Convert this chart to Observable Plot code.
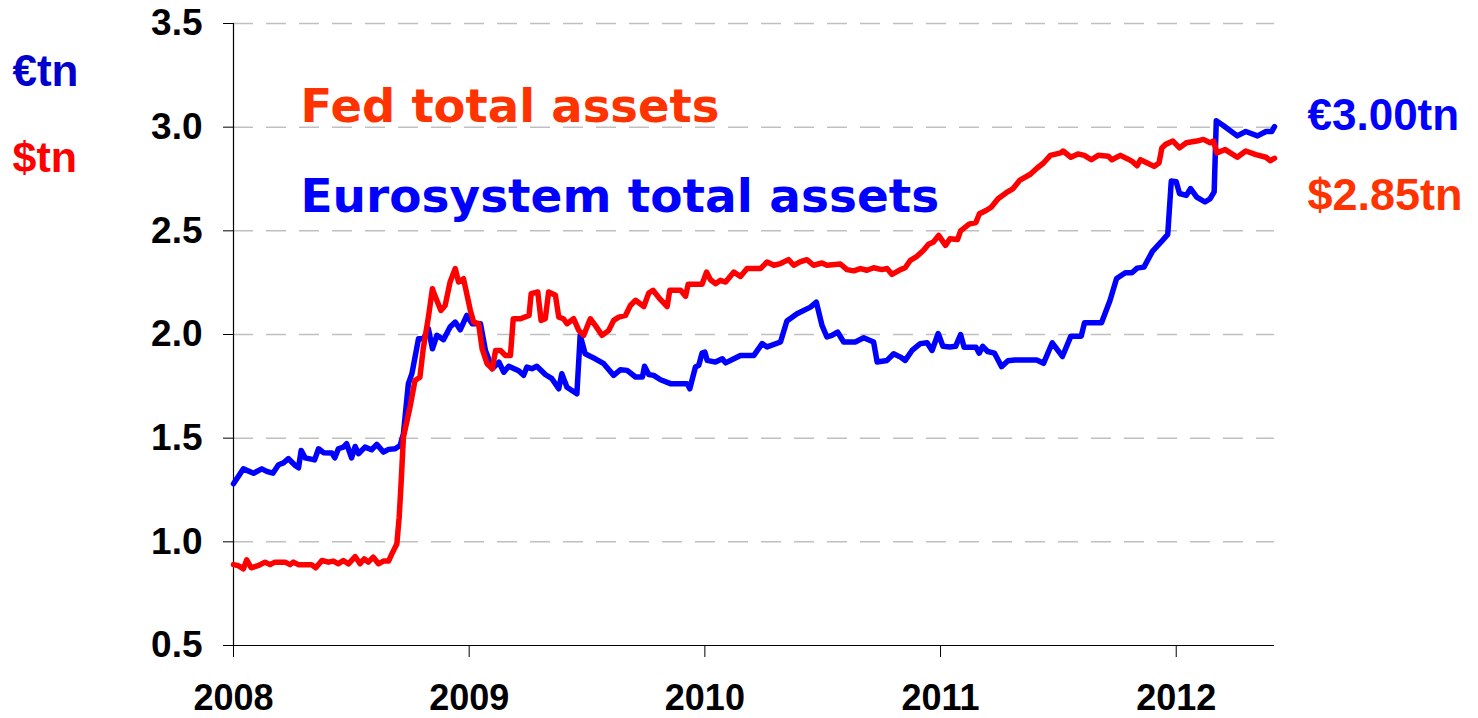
<!DOCTYPE html>
<html><head><meta charset="utf-8">
<script src="https://cdn.jsdelivr.net/npm/d3@7"></script>
<script src="https://cdn.jsdelivr.net/npm/@observablehq/plot@0.6"></script>
<style>html,body{margin:0;padding:0;background:#fff;} svg{display:block}</style>
</head><body><div id="chart"></div>
<script>
// Eurosystem total assets (EUR tn)
const ecbYears = [2008.000,2008.042,2008.085,2008.120,2008.141,2008.167,2008.191,2008.212,2008.233,2008.262,2008.276,2008.287,2008.304,2008.344,2008.361,2008.382,2008.417,2008.430,2008.445,2008.466,2008.480,2008.501,2008.516,2008.530,2008.558,2008.586,2008.608,2008.636,2008.658,2008.686,2008.707,2008.721,2008.742,2008.757,2008.785,2008.806,2008.827,2008.844,2008.863,2008.891,2008.919,2008.941,2008.962,2008.990,2009.013,2009.048,2009.069,2009.098,2009.126,2009.147,2009.168,2009.210,2009.231,2009.245,2009.266,2009.287,2009.323,2009.351,2009.380,2009.393,2009.415,2009.457,2009.471,2009.492,2009.535,2009.571,2009.613,2009.642,2009.670,2009.706,2009.735,2009.744,2009.762,2009.783,2009.812,2009.854,2009.925,2009.936,2009.960,2009.974,2009.988,2010.000,2010.010,2010.045,2010.074,2010.088,2010.123,2010.151,2010.208,2010.243,2010.264,2010.321,2010.348,2010.391,2010.448,2010.473,2010.497,2010.518,2010.539,2010.563,2010.589,2010.638,2010.674,2010.716,2010.731,2010.773,2010.801,2010.830,2010.850,2010.879,2010.914,2010.943,2010.964,2010.990,2011.010,2011.040,2011.064,2011.085,2011.100,2011.150,2011.164,2011.179,2011.200,2011.229,2011.259,2011.286,2011.315,2011.408,2011.437,2011.474,2011.517,2011.553,2011.597,2011.611,2011.683,2011.719,2011.747,2011.784,2011.812,2011.834,2011.863,2011.899,2011.935,2011.964,2011.979,2012.000,2012.014,2012.043,2012.061,2012.087,2012.122,2012.144,2012.161,2012.170,2012.201,2012.259,2012.295,2012.345,2012.381,2012.405,2012.417];
const ecbValues = [1.280,1.352,1.331,1.352,1.340,1.331,1.372,1.381,1.401,1.368,1.357,1.441,1.405,1.395,1.449,1.430,1.429,1.405,1.449,1.457,1.473,1.405,1.460,1.425,1.457,1.444,1.470,1.433,1.446,1.449,1.465,1.521,1.763,1.811,1.980,1.980,2.028,1.931,1.996,1.975,2.036,2.060,2.023,2.092,2.052,2.052,1.923,1.835,1.867,1.818,1.847,1.825,1.803,1.843,1.835,1.847,1.807,1.787,1.738,1.811,1.746,1.714,1.996,1.907,1.883,1.859,1.803,1.830,1.827,1.795,1.795,1.847,1.807,1.803,1.782,1.763,1.763,1.738,1.843,1.851,1.910,1.915,1.875,1.867,1.883,1.863,1.883,1.899,1.899,1.956,1.940,1.964,2.065,2.100,2.132,2.156,2.044,1.988,1.996,2.012,1.964,1.964,1.984,1.964,1.867,1.875,1.907,1.891,1.875,1.923,1.956,1.960,1.923,2.005,1.943,1.940,1.943,2.000,1.939,1.939,1.910,1.943,1.918,1.910,1.845,1.873,1.877,1.877,1.861,1.960,1.894,1.992,1.992,2.057,2.057,2.164,2.270,2.298,2.298,2.320,2.325,2.401,2.445,2.483,2.740,2.737,2.680,2.671,2.704,2.663,2.639,2.655,2.688,3.031,3.007,2.958,2.979,2.958,2.979,2.979,3.003];

// Fed total assets (USD tn)
const fedYears = [2008.000,2008.020,2008.042,2008.056,2008.075,2008.104,2008.134,2008.155,2008.176,2008.219,2008.240,2008.254,2008.275,2008.331,2008.349,2008.375,2008.403,2008.424,2008.445,2008.466,2008.488,2008.516,2008.537,2008.555,2008.572,2008.593,2008.615,2008.636,2008.658,2008.672,2008.693,2008.703,2008.711,2008.721,2008.749,2008.770,2008.791,2008.805,2008.827,2008.844,2008.851,2008.880,2008.898,2008.919,2008.941,2008.955,2008.976,2009.005,2009.019,2009.040,2009.055,2009.076,2009.098,2009.112,2009.133,2009.154,2009.175,2009.187,2009.218,2009.254,2009.263,2009.291,2009.305,2009.323,2009.337,2009.366,2009.380,2009.400,2009.415,2009.443,2009.465,2009.486,2009.514,2009.535,2009.564,2009.592,2009.613,2009.635,2009.663,2009.684,2009.706,2009.741,2009.762,2009.780,2009.812,2009.840,2009.851,2009.897,2009.918,2009.929,2009.988,2010.007,2010.024,2010.045,2010.066,2010.088,2010.123,2010.151,2010.179,2010.236,2010.264,2010.293,2010.321,2010.355,2010.377,2010.404,2010.433,2010.461,2010.497,2010.518,2010.575,2010.603,2010.632,2010.660,2010.688,2010.716,2010.751,2010.773,2010.794,2010.830,2010.850,2010.872,2010.900,2010.928,2010.949,2010.970,2010.992,2011.021,2011.040,2011.072,2011.085,2011.121,2011.150,2011.165,2011.193,2011.215,2011.244,2011.279,2011.308,2011.337,2011.381,2011.410,2011.437,2011.466,2011.510,2011.520,2011.553,2011.583,2011.610,2011.640,2011.669,2011.712,2011.727,2011.763,2011.792,2011.813,2011.834,2011.848,2011.877,2011.906,2011.927,2011.939,2011.955,2011.986,2012.014,2012.043,2012.087,2012.115,2012.144,2012.158,2012.173,2012.208,2012.259,2012.295,2012.338,2012.381,2012.400,2012.417];
const fedValues = [0.890,0.885,0.870,0.913,0.875,0.885,0.902,0.890,0.902,0.902,0.890,0.902,0.890,0.890,0.875,0.910,0.902,0.907,0.894,0.910,0.894,0.929,0.894,0.918,0.902,0.926,0.894,0.907,0.907,0.942,0.990,1.119,1.280,1.505,1.650,1.778,1.794,1.931,2.084,2.221,2.197,2.116,2.140,2.253,2.318,2.253,2.269,2.116,2.060,2.052,1.931,1.859,1.835,1.923,1.923,1.899,1.899,2.076,2.076,2.092,2.197,2.205,2.068,2.076,2.205,2.189,2.084,2.076,2.052,2.076,2.020,1.996,2.076,2.044,1.996,2.020,2.068,2.084,2.092,2.140,2.165,2.135,2.200,2.213,2.168,2.135,2.213,2.213,2.184,2.242,2.242,2.301,2.264,2.245,2.261,2.253,2.301,2.280,2.318,2.318,2.350,2.334,2.342,2.361,2.334,2.350,2.361,2.334,2.345,2.334,2.340,2.313,2.307,2.318,2.310,2.322,2.313,2.318,2.290,2.313,2.322,2.358,2.377,2.406,2.435,2.446,2.478,2.430,2.462,2.458,2.500,2.532,2.540,2.582,2.598,2.614,2.655,2.684,2.704,2.745,2.773,2.803,2.827,2.864,2.876,2.885,2.855,2.871,2.864,2.843,2.864,2.860,2.843,2.864,2.848,2.835,2.814,2.843,2.827,2.811,2.827,2.900,2.917,2.933,2.900,2.925,2.933,2.941,2.925,2.933,2.876,2.892,2.855,2.885,2.868,2.855,2.838,2.850];

const yTicks = [0.5, 1.0, 1.5, 2.0, 2.5, 3.0, 3.5];
const xTicks = [2008, 2009, 2010, 2011, 2012];

const ecb = ecbYears.map((x, i) => ({x, y: ecbValues[i]}));
const fed = fedYears.map((x, i) => ({x, y: fedValues[i]}));

const arial = "'Liberation Sans', Arial, Helvetica, sans-serif";
const verdana = "'DejaVu Sans', Verdana, sans-serif";

function label(txt, dx, dy, fill, size, family) {
  return Plot.text([txt], {text: d => d, frameAnchor: "top-left", dx, dy,
    textAnchor: "start", lineAnchor: "middle", fill, fontSize: size,
    fontWeight: "bold", fontFamily: family});
}

const chart = Plot.plot({
  width: 1478, height: 718,
  marginLeft: 233, marginRight: 204, marginTop: 23, marginBottom: 73,
  style: {fontFamily: arial, fontWeight: "bold", color: "#000", background: "#fff", overflow: "visible"},
  x: {domain: [2008, 2012.417]},
  y: {domain: [0.5, 3.5]},
  marks: [
    Plot.gridY(yTicks.filter(d => d > 0.5), {stroke: "#c0c0c0", strokeOpacity: 1, strokeWidth: 1.5, strokeDasharray: "20,13"}),
    Plot.axisY(yTicks, {tickSize: 10, tickPadding: 21, tickFormat: d3.format(".1f"), fontSize: 37, label: null, stroke: "#000"}),
    Plot.axisX(xTicks, {tickSize: 12, tickPadding: 27, tickFormat: d => String(d), fontSize: 36, label: null, stroke: "#000"}),
    Plot.ruleX([2008], {y1: 0.5, y2: 3.5, stroke: "#000", strokeWidth: 1.2}),
    Plot.ruleY([0.5], {stroke: "#000", strokeWidth: 1.2}),
    Plot.line(ecb, {x: "x", y: "y", stroke: "#0000ff", strokeWidth: 5.5, strokeLinejoin: "round"}),
    Plot.line(fed, {x: "x", y: "y", stroke: "#ff0000", strokeWidth: 5.5, strokeLinejoin: "round"}),
    label("€tn", -221, 48, "#0000cc", 44, arial),
    label("$tn", -221, 135, "#ff0000", 43, arial),
    label("Fed total assets", 67, 84, "#ff3300", 46.5, verdana),
    label("Eurosystem total assets", 67, 173, "#0000ff", 47, verdana),
    label("€3.00tn", 1074, 92, "#0000ff", 44, arial),
    label("$2.85tn", 1074, 172, "#ff3300", 45, arial)
  ]
});
document.getElementById("chart").appendChild(chart);
</script>
</body></html>
